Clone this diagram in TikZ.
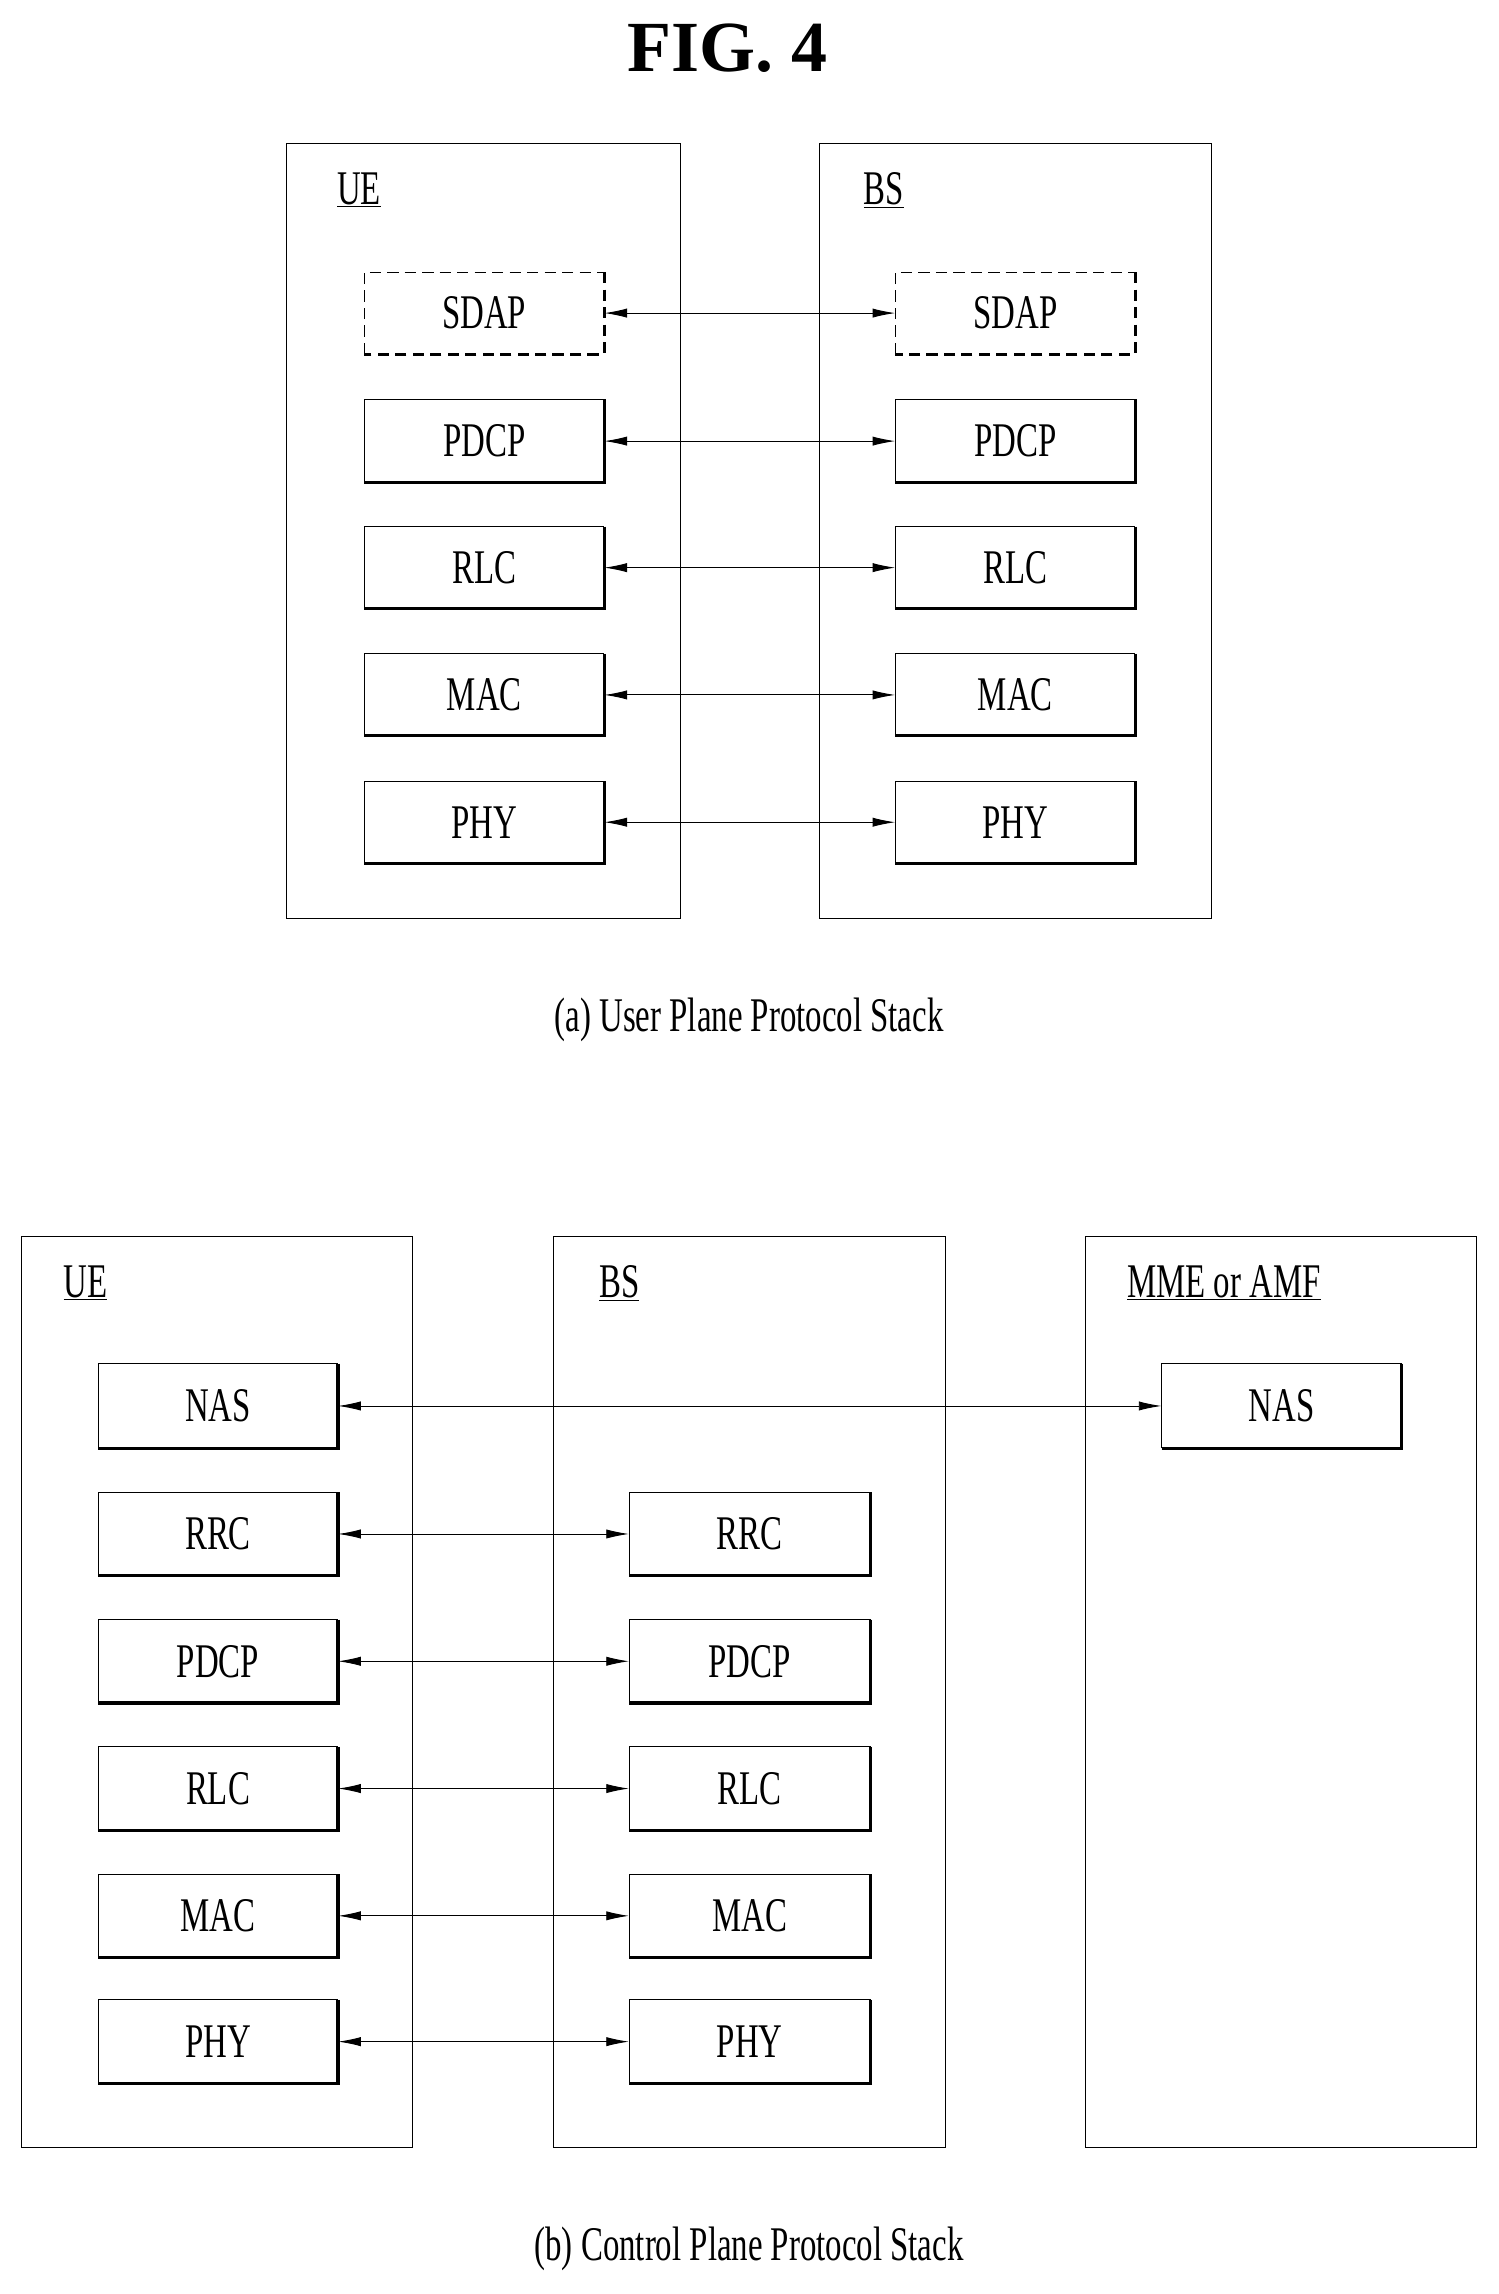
\documentclass[tikz,border=0pt]{standalone}
\usepackage{fontspec}
\usetikzlibrary{arrows.meta}
\setmainfont[FakeStretch=0.68]{Liberation Serif}
\newfontfamily\titlefont{Liberation Serif}
\begin{document}
\begin{tikzpicture}[x=0.05cm,y=-0.05cm,
  lbl/.style={font=\fontsize{47}{50}\selectfont},
  frame/.style={draw,line width=1pt},
  arr/.style={line width=0.9pt,<->,>={Latex[length=22pt,width=9pt]}}]
\useasboundingbox (0,0) rectangle (1024,1568);
\newcommand{\pbox}[6]{% name, x1,y1,x2,y2,text
  \node[lbl,minimum width={(#4-#2)*0.05cm},minimum height={(#5-#3)*0.05cm},inner sep=0] (#1) at ({(#2+#4)/2},{(#3+#5)/2}) {#6};
  \draw[line width=1pt] (#2,#5) -- (#2,#3) -- (#4,#3);
  \draw[line width=3pt] (#4,#3) -- (#4,#5) -- (#2,#5);}
\newcommand{\dbox}[6]{%
  \node[lbl,minimum width={(#4-#2)*0.05cm},minimum height={(#5-#3)*0.05cm},inner sep=0] (#1) at ({(#2+#4)/2},{(#3+#5)/2}) {#6};
  \draw[line width=1pt,dash pattern=on 11pt off 6pt] (#2,#5) -- (#2,#3) -- (#4,#3);
  \draw[line width=3pt,dash pattern=on 11pt off 6pt] (#4,#3) -- (#4,#5) -- (#2,#5);}
\node[font=\titlefont\bfseries\fontsize{70}{70}\selectfont] (title) at (497,33) {FIG. 4};
% top
\draw[frame] (196,98) rectangle (465,628);
\draw[frame] (560,98) rectangle (828,628);
\node[lbl,anchor=west] (ue1) at (228,130) {\underline{UE}};
\node[lbl,anchor=west] (bs1) at (588,130) {\underline{BS}};
\dbox{a1}{249}{186}{413}{242}{SDAP}
\dbox{b1}{612}{186}{776}{242}{SDAP}
\pbox{a2}{249}{273}{413}{330}{PDCP}
\pbox{b2}{612}{273}{776}{330}{PDCP}
\pbox{a3}{249}{360}{413}{416}{RLC}
\pbox{b3}{612}{360}{776}{416}{RLC}
\pbox{a4}{249}{447}{413}{503}{MAC}
\pbox{b4}{612}{447}{776}{503}{MAC}
\pbox{a5}{249}{534}{413}{590}{PHY}
\pbox{b5}{612}{534}{776}{590}{PHY}
\foreach \i in {1,...,5} \draw[arr] (a\i.east) -- (b\i.west);
\node[lbl] (capa) at (512,697) {(a) User Plane Protocol Stack};
% bottom
\draw[frame] (15,845) rectangle (282,1468);
\draw[frame] (378,845) rectangle (646,1468);
\draw[frame] (742,845) rectangle (1009,1468);
\node[lbl,anchor=west] (ue2) at (41,877) {\underline{UE}};
\node[lbl,anchor=west] (bs2) at (407,877) {\underline{BS}};
\node[lbl,anchor=west] (mme) at (768,877) {\underline{MME or AMF}};
\pbox{c0}{67}{932}{231}{990}{NAS}
\pbox{m0}{794}{932}{958}{990}{NAS}
\pbox{c1}{67}{1020}{231}{1077}{RRC}
\pbox{d1}{430}{1020}{595}{1077}{RRC}
\pbox{c2}{67}{1107}{231}{1164}{PDCP}
\pbox{d2}{430}{1107}{595}{1164}{PDCP}
\pbox{c3}{67}{1194}{231}{1251}{RLC}
\pbox{d3}{430}{1194}{595}{1251}{RLC}
\pbox{c4}{67}{1281}{231}{1338}{MAC}
\pbox{d4}{430}{1281}{595}{1338}{MAC}
\pbox{c5}{67}{1367}{231}{1424}{PHY}
\pbox{d5}{430}{1367}{595}{1424}{PHY}
\draw[arr] (c0.east) -- (m0.west);
\foreach \i in {1,...,5} \draw[arr] (c\i.east) -- (d\i.west);
\node[lbl] (capb) at (512,1537) {(b) Control Plane Protocol Stack};
\end{tikzpicture}
\end{document}
